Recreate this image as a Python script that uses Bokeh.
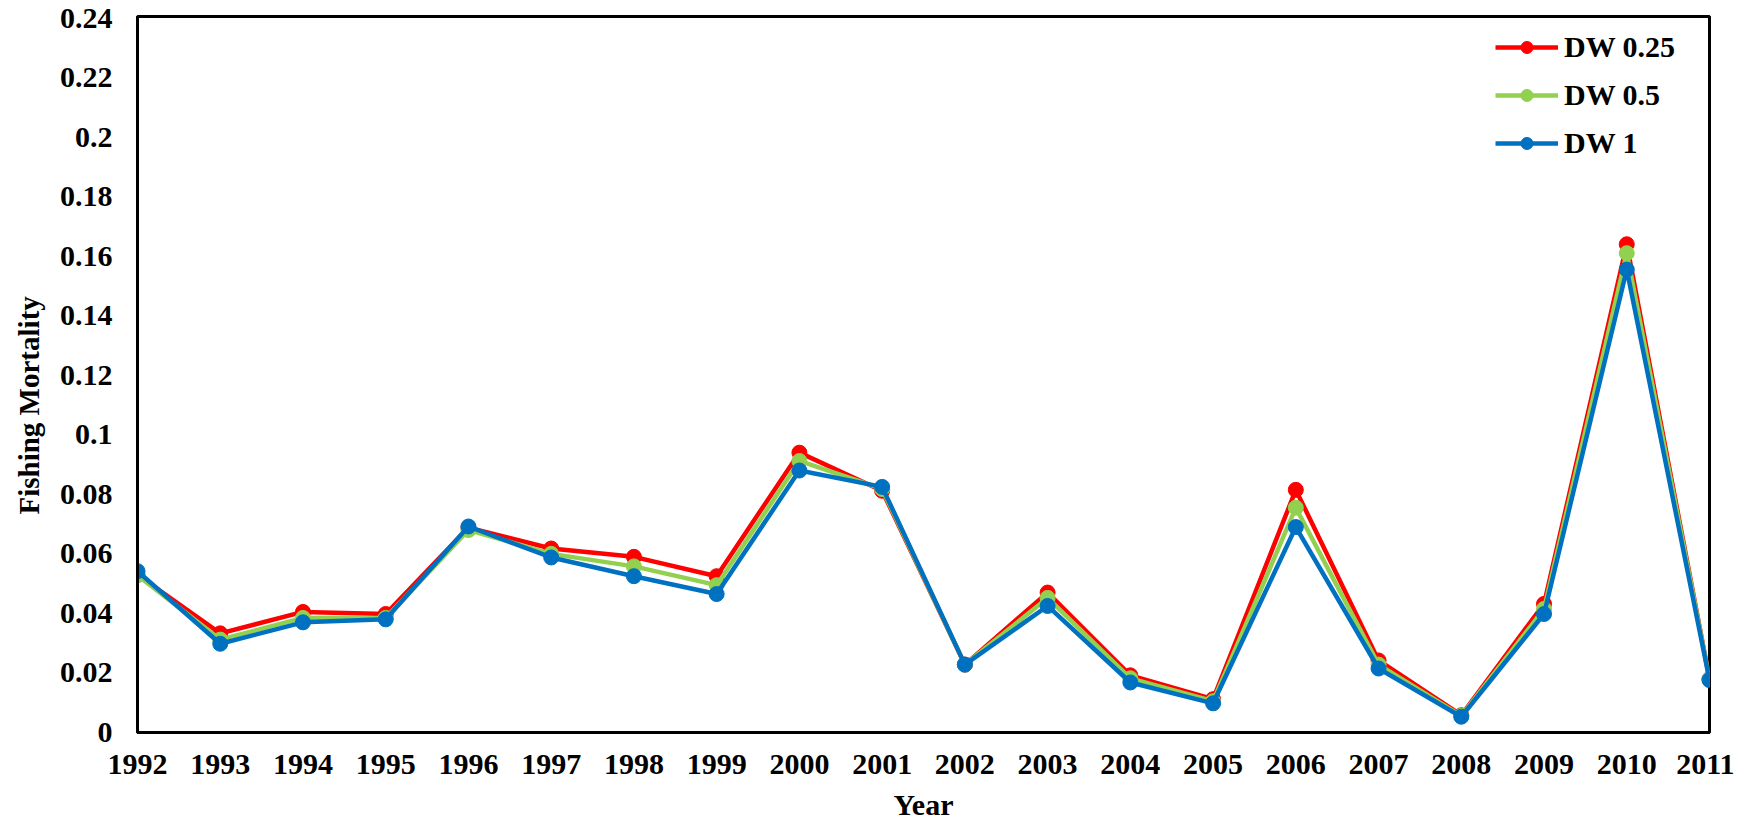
from bokeh.plotting import figure
from bokeh.models import Range1d, FixedTicker, Legend, LegendItem, Title
from bokeh.embed import file_html
from bokeh.resources import INLINE

years = list(range(1992, 2012))
dw_025 = [0.053, 0.0333, 0.0405, 0.0398, 0.0688, 0.0618, 0.0590, 0.0525, 0.0940, 0.0812,
          0.0228, 0.0470, 0.0192, 0.0112, 0.0815, 0.0242, 0.0058, 0.0432, 0.1640, 0.0180]
dw_05 = [0.0528, 0.0312, 0.0385, 0.0385, 0.0680, 0.0600, 0.0558, 0.0495, 0.0912, 0.0818,
         0.0228, 0.0452, 0.0182, 0.0105, 0.0755, 0.0228, 0.0056, 0.0415, 0.1610, 0.0180]
dw_1 = [0.0542, 0.0298, 0.0370, 0.0380, 0.0692, 0.0588, 0.0525, 0.0465, 0.0880, 0.0825,
        0.0228, 0.0425, 0.0168, 0.0098, 0.0690, 0.0215, 0.0053, 0.0398, 0.1555, 0.0176]
y_ticks = [0, 0.02, 0.04, 0.06, 0.08, 0.1, 0.12, 0.14, 0.16, 0.18, 0.2, 0.22, 0.24]
y_tick_labels = ["0", "0.02", "0.04", "0.06", "0.08", "0.1", "0.12", "0.14", "0.16", "0.18", "0.2", "0.22", "0.24"]
x_title = "Year"
y_title = "Fishing Mortality"

series = [("DW 0.25", dw_025, "#FF0000"), ("DW 0.5", dw_05, "#92D050"), ("DW 1", dw_1, "#0070C0")]

FONT = "Liberation Serif"
W, H = 1734, 823
BL, BR, BT, BB = 137, 25, 16, 88
FW, FH = W - BL - BR, H - BT - BB

p = figure(width=W, height=H, output_backend="svg", toolbar_location=None,
           x_range=Range1d(1992, 2011), y_range=Range1d(0, 0.2405),
           min_border_left=BL, min_border_right=BR, min_border_top=BT, min_border_bottom=BB)

p.grid.visible = False
p.outline_line_color = "black"
p.outline_line_width = 3
p.background_fill_color = "white"
p.border_fill_color = "white"

items = []
for name, vals, col in series:
    r1 = p.line(years, vals, line_color=col, line_width=4.5)
    r2 = p.scatter(years, vals, size=15, fill_color=col, line_color=col)
    items.append(LegendItem(label=name, renderers=[r1, r2]))

leg_h = 3 * 34.5 + 2 * 14
leg_top = 42 - 17 - (BT - 6)
legend = Legend(items=items, location=(1358, FH - leg_top - leg_h), orientation="vertical",
                label_text_font=FONT, label_text_font_style="bold", label_text_font_size="30px",
                label_text_color="black", glyph_width=63, glyph_height=30, label_height=30,
                spacing=14, padding=0, margin=0, label_standoff=6,
                border_line_color=None, background_fill_alpha=0)
p.add_layout(legend)

p.xaxis.ticker = FixedTicker(ticks=years)
p.yaxis.ticker = FixedTicker(ticks=y_ticks)
p.yaxis.major_label_overrides = {t: l for t, l in zip(y_ticks, y_tick_labels)}

for ax in (p.xaxis[0], p.yaxis[0]):
    ax.axis_line_color = "black"
    ax.axis_line_width = 3
    ax.major_tick_out = 0
    ax.major_tick_in = 0
    ax.minor_tick_out = 0
    ax.minor_tick_in = 0
    ax.major_label_text_font = FONT
    ax.major_label_text_font_style = "bold"
    ax.major_label_text_font_size = "30px"
    ax.major_label_text_color = "black"

p.xaxis.major_label_standoff = 22
p.yaxis.major_label_standoff = 25

p.xaxis.axis_label = x_title
p.xaxis.axis_label_text_font = FONT
p.xaxis.axis_label_text_font_style = "bold"
p.xaxis.axis_label_text_font_size = "30px"
p.xaxis.axis_label_text_color = "black"
p.xaxis.axis_label_standoff = 11

# vertical y title on the left, starting ~218 px above the frame bottom
yt = Title(text=y_title, align="left", offset=FH - (517 - BT), standoff=20,
           vertical_align="top",
           text_font=FONT, text_font_style="bold", text_font_size="29px",
           text_color="black")
p.add_layout(yt, "left")

open("out.html", "w").write(file_html(p, INLINE))
